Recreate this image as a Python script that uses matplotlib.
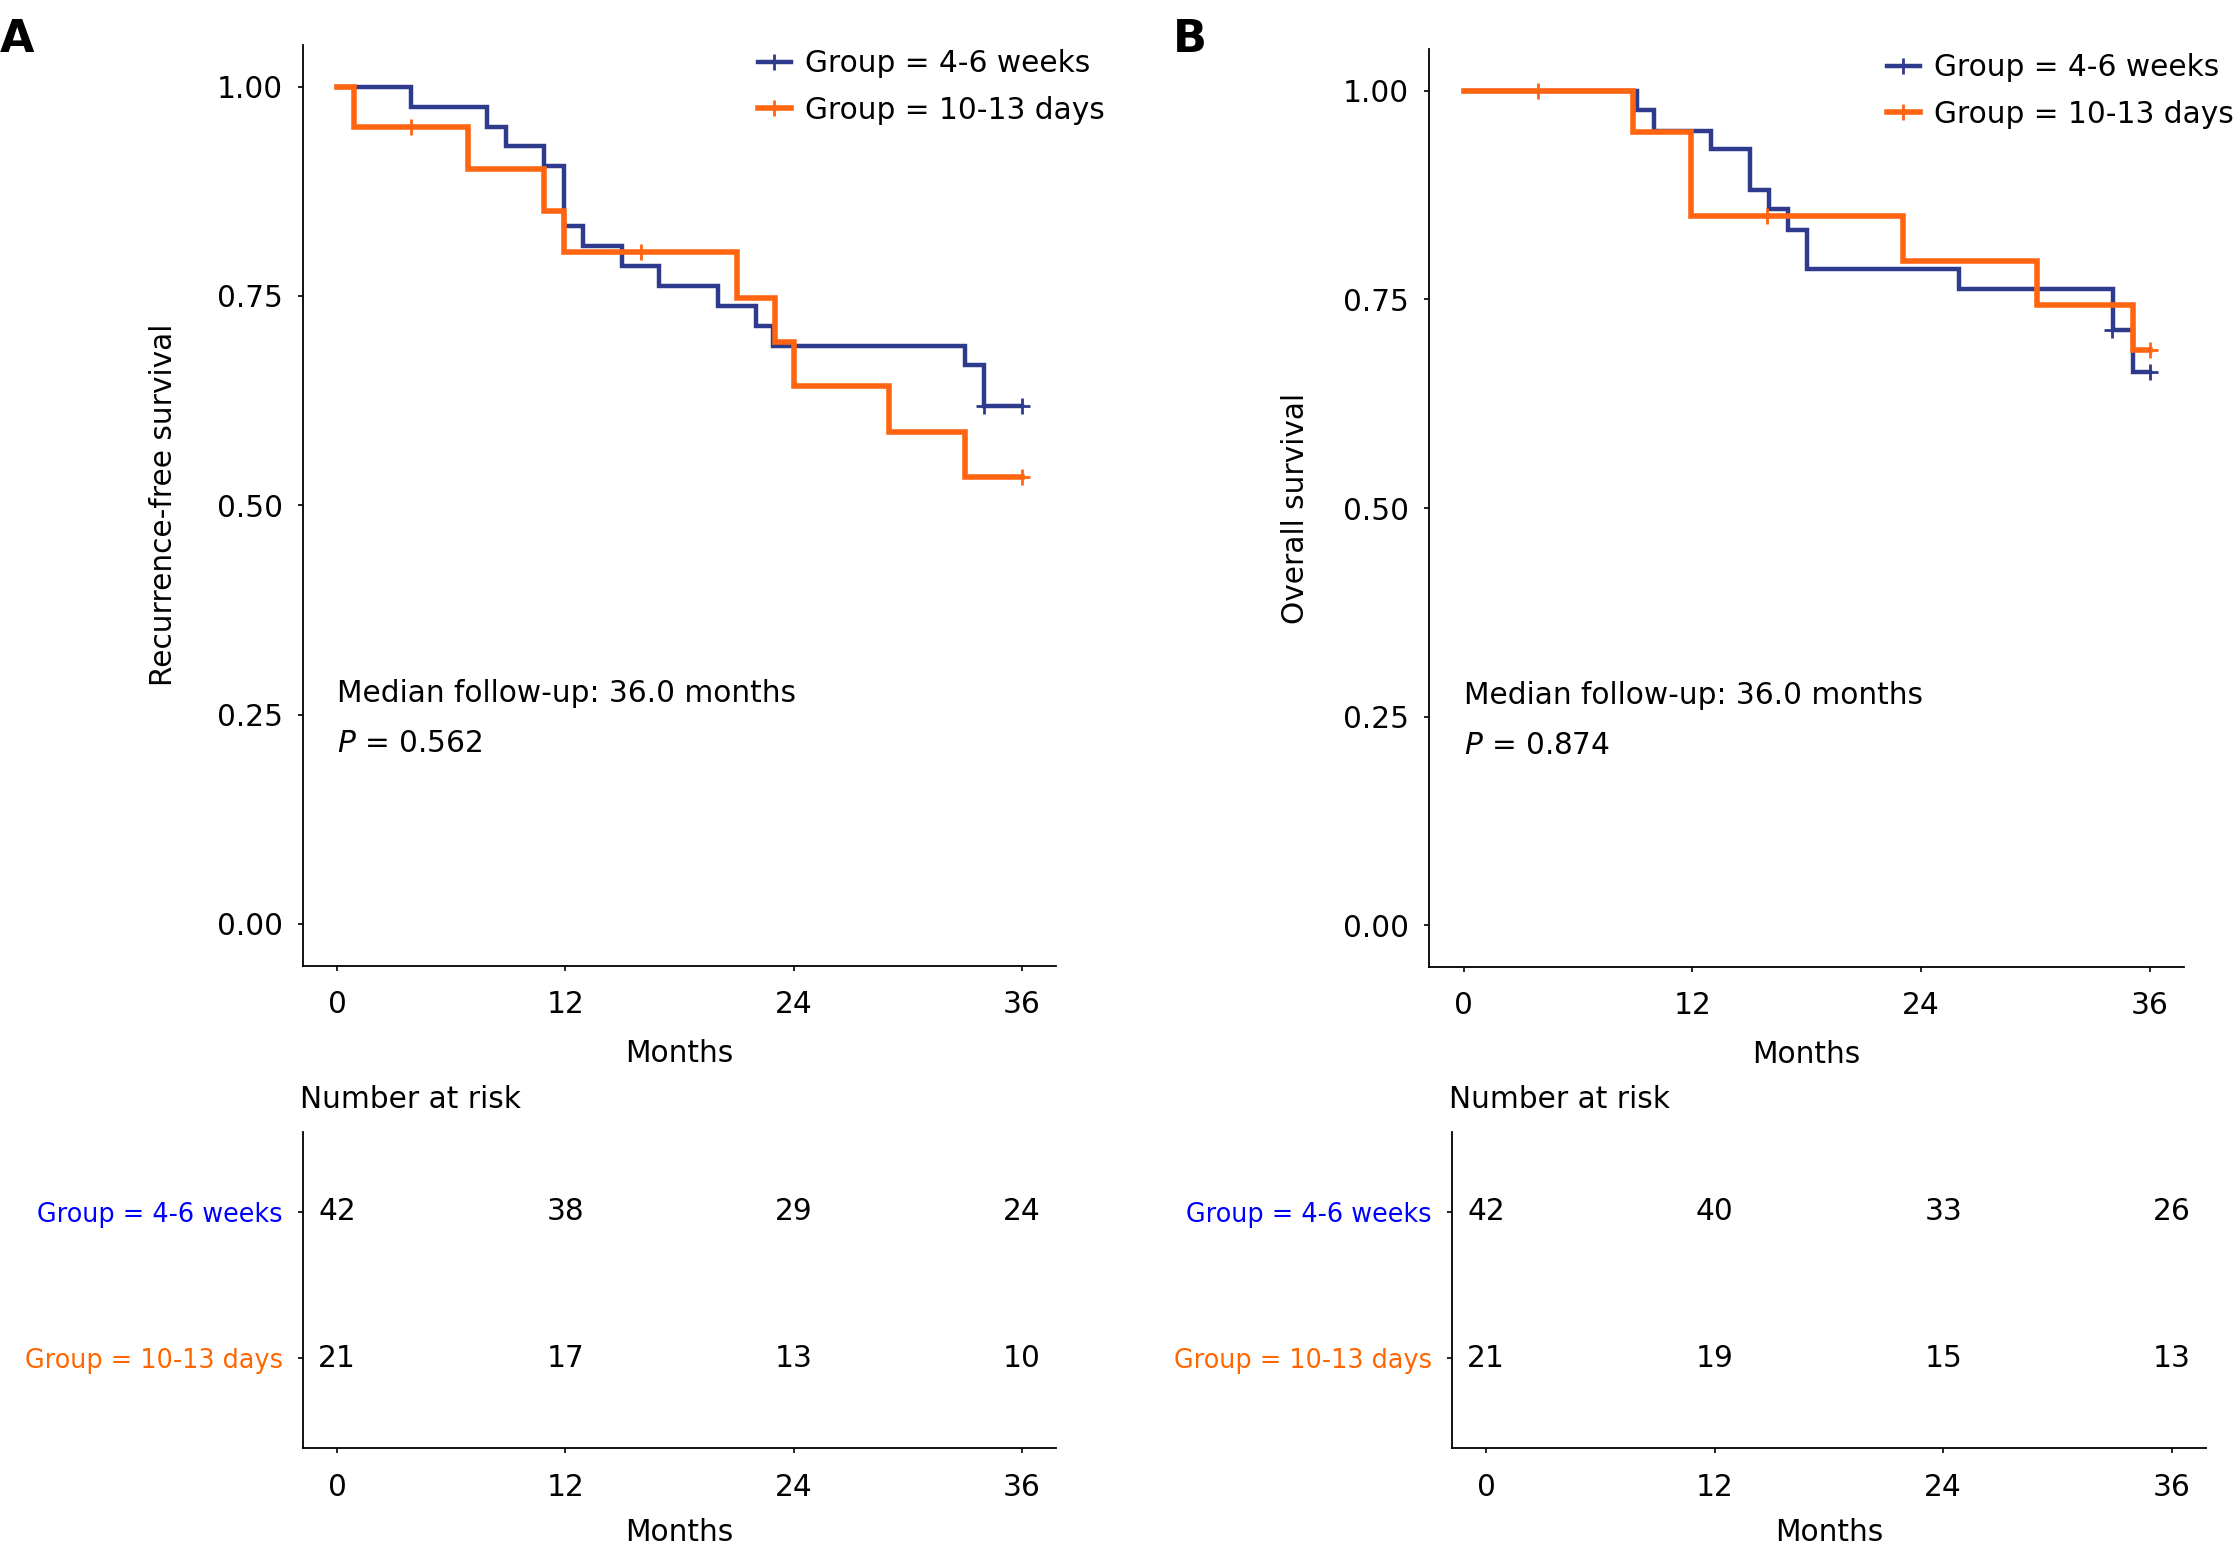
import matplotlib
matplotlib.use("Agg")
import matplotlib.pyplot as plt
from matplotlib.lines import Line2D

plt.rcParams['font.family'] = ['DejaVu Sans']
plt.rcParams['mathtext.fontset'] = 'dejavusans'

# ---------------- data ----------------
groups = ["Group = 4-6 weeks", "Group = 10-13 days"]
x_ticks = [0, 12, 24, 36]

# Panel A: recurrence-free survival
a_t_wk = [0, 3.9, 7.9, 8.9, 10.9, 11.9, 12.9, 15.0, 16.9, 20.0, 22.0, 22.9, 33.0, 34.0, 36.0]
a_s_wk = [1.0, 0.976, 0.952, 0.929, 0.905, 0.833, 0.810, 0.786, 0.762, 0.738, 0.714, 0.690, 0.667, 0.618, 0.618]
a_cens_t_wk = [34.0, 36.0]
a_cens_s_wk = [0.618, 0.618]

a_t_dy = [0, 0.9, 6.9, 10.9, 11.9, 21.0, 23.0, 24.0, 29.0, 33.0, 36.0]
a_s_dy = [1.0, 0.952, 0.902, 0.852, 0.802, 0.748, 0.695, 0.642, 0.588, 0.534, 0.534]
a_cens_t_dy = [3.9, 16.0, 36.0]
a_cens_s_dy = [0.952, 0.802, 0.534]

a_risk_wk = [42, 38, 29, 24]
a_risk_dy = [21, 17, 13, 10]
a_pval = "0.562"

# Panel B: overall survival
b_t_wk = [0, 9.07, 10.0, 13.0, 15.0, 16.0, 17.0, 18.0, 26.0, 34.1, 35.1, 36.0]
b_s_wk = [1.0, 0.977, 0.952, 0.930, 0.881, 0.858, 0.833, 0.786, 0.762, 0.713, 0.663, 0.663]
b_cens_t_wk = [34.0, 36.0]
b_cens_s_wk = [0.713, 0.663]

b_t_dy = [0, 8.9, 11.95, 23.05, 30.1, 35.1, 36.0]
b_s_dy = [1.0, 0.95, 0.85, 0.796, 0.743, 0.689, 0.689]
b_cens_t_dy = [3.9, 15.9, 36.0]
b_cens_s_dy = [1.0, 0.85, 0.689]

b_risk_wk = [42, 40, 33, 26]
b_risk_dy = [21, 19, 15, 13]
b_pval = "0.874"

median_text = "Median follow-up: 36.0 months"

# ---------------- style ----------------
C_WK = "#2E3A8C"
C_DY = "#FF6510"
C_WK_LBL = "#0000FF"
C_DY_LBL = "#FF6600"
FS = 21.3
W, H = 2238, 1565
LW_WK, LW_DY = 3.2, 4.0

fig = plt.figure(figsize=(W / 100, H / 100), dpi=100)


def px_axes(l, t, r, b):
    return fig.add_axes([l / W, 1 - b / H, (r - l) / W, (b - t) / H])


def style_axes(ax):
    for s in ["top", "right"]:
        ax.spines[s].set_visible(False)
    for s in ["left", "bottom"]:
        ax.spines[s].set_linewidth(1.3)
    ax.tick_params(axis="both", length=3.6, width=1.2, labelsize=FS, colors="black")
    ax.tick_params(axis="y", pad=11)
    ax.tick_params(axis="x", pad=14)


def km_panel(ax, t_wk, s_wk, ct_wk, cs_wk, t_dy, s_dy, ct_dy, cs_dy, ylabel, ylab_x, pval):
    ax.step(t_wk, s_wk, where="post", color=C_WK, lw=LW_WK, solid_joinstyle="miter")
    ax.plot(ct_wk, cs_wk, ls="none", marker="+", ms=12, mew=2.0, color=C_WK)
    ax.step(t_dy, s_dy, where="post", color=C_DY, lw=LW_DY, solid_joinstyle="miter")
    ax.plot(ct_dy, cs_dy, ls="none", marker="+", ms=12, mew=2.0, color=C_DY)
    ax.set_xlim(-1.8, 37.8)
    ax.set_ylim(-0.05, 1.05)
    ax.set_xticks(x_ticks)
    ax.set_yticks([0, 0.25, 0.5, 0.75, 1.0])
    ax.set_yticklabels(["0.00", "0.25", "0.50", "0.75", "1.00"])
    style_axes(ax)
    ax.set_xlabel("Months", fontsize=FS, va="center")
    ax.xaxis.set_label_coords(0.5, -0.095)
    ax.set_ylabel(ylabel, fontsize=FS, va="center")
    ax.yaxis.set_label_coords(ylab_x, 0.5)
    ax.text(0, 0.275, median_text, fontsize=FS, ha="left", va="center")
    ax.text(0, 0.216, r"$\it{P}$ = " + pval, fontsize=FS, ha="left", va="center")


def risk_panel(ax, risk_wk, risk_dy):
    ax.set_xlim(-1.8, 37.8)
    ax.set_ylim(0.386, 2.546)
    for x, n in zip(x_ticks, risk_wk):
        ax.text(x, 2, str(n), fontsize=FS, ha="center", va="center")
    for x, n in zip(x_ticks, risk_dy):
        ax.text(x, 1, str(n), fontsize=FS, ha="center", va="center")
    ax.set_xticks(x_ticks)
    ax.set_yticks([2, 1])
    style_axes(ax)
    ax.set_yticklabels(groups, fontsize=18.4)
    for lbl, c in zip(ax.get_yticklabels(), [C_WK_LBL, C_DY_LBL]):
        lbl.set_color(c)
    ax.set_xlabel("Months", fontsize=FS, va="center")
    ax.xaxis.set_label_coords(0.5, -0.266)


def legend(ax, x_px, top_px):
    handles = [
        Line2D([], [], color=C_WK, lw=LW_WK, marker="+", ms=12, mew=2.0),
        Line2D([], [], color=C_DY, lw=LW_DY, marker="+", ms=12, mew=2.0),
    ]
    ax.legend(handles, groups, loc="upper left", bbox_to_anchor=(x_px / W, 1 - top_px / H),
              bbox_transform=fig.transFigure, frameon=False, fontsize=FS,
              handlelength=1.1, handletextpad=0.5, labelspacing=0.6,
              borderpad=0, borderaxespad=0)


# Panel A
axA = px_axes(303, 44.8, 1056, 965.7)
km_panel(axA, a_t_wk, a_s_wk, a_cens_t_wk, a_cens_s_wk, a_t_dy, a_s_dy, a_cens_t_dy, a_cens_s_dy,
         "Recurrence-free survival", -0.1846, a_pval)
legend(axA, 758, 49)

axAr = px_axes(303, 1131.7, 1056, 1448.3)
risk_panel(axAr, a_risk_wk, a_risk_dy)
fig.text(300 / W, 1 - 1099 / H, "Number at risk", fontsize=FS, ha="left", va="center")

# Panel B
axB = px_axes(1429.4, 49, 2184, 967)
km_panel(axB, b_t_wk, b_s_wk, b_cens_t_wk, b_cens_s_wk, b_t_dy, b_s_dy, b_cens_t_dy, b_cens_s_dy,
         "Overall survival", -0.1768, b_pval)
legend(axB, 1887, 53)

axBr = px_axes(1451.8, 1131.7, 2206, 1448.3)
risk_panel(axBr, b_risk_wk, b_risk_dy)
fig.text(1449 / W, 1 - 1099 / H, "Number at risk", fontsize=FS, ha="left", va="center")

# panel letters
fig.text(0 / W, 1 - 39 / H, "A", fontsize=32, fontweight="bold", ha="left", va="center")
fig.text(1173 / W, 1 - 40 / H, "B", fontsize=32, fontweight="bold", ha="left", va="center")

fig.savefig("out.png", dpi=100)
